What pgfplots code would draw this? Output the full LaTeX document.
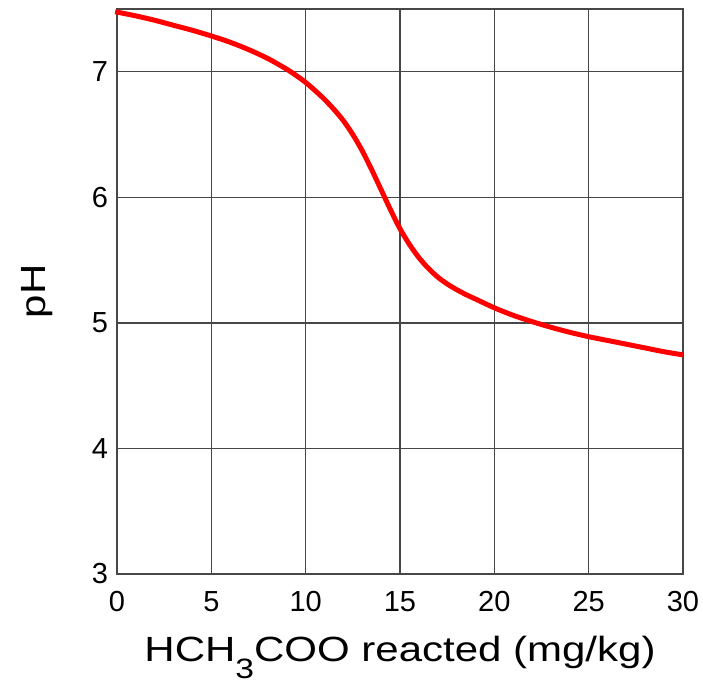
\documentclass[border=0pt]{standalone}
\usepackage{fontspec}
\setmainfont{Liberation Sans}
\newfontfamily\widefont[FakeStretch=1.2]{Liberation Sans}
\usepackage{pgfplots}
\pgfplotsset{compat=1.18}
\usetikzlibrary{calc}
\begin{document}
\begin{tikzpicture}
\begin{axis}[
  name=ax,
  scale only axis,
  width=283pt, height=282.5pt,
  xmin=0, xmax=30, ymin=3, ymax=7.5,
  xtick={0,5,...,30}, ytick={3,4,5,6,7},
  grid=major,
  major grid style={line width=0.65pt, color=black!72},
  axis line style={line width=0.65pt, color=black!72},
  major tick length=0pt,
  tick label style={font=\fontsize{14.5}{16}\selectfont},
  /pgf/number format/assume math mode=true,
  xticklabel style={yshift=-5pt},
  yticklabel style={xshift=-1pt},
  xlabel={HCH\raisebox{-8.5pt}{\fontsize{14}{16}\selectfont 3}COO reacted (mg/kg)},
  ylabel={pH},
  label style={font=\widefont\fontsize{17.5}{19}\selectfont},
  xlabel style={at={(axis description cs:0.5,0)}, anchor=base, yshift=-44pt},
  ylabel style={at={(axis description cs:-0.1272,0.5)}, anchor=base},
  clip=false,
]
\addplot[red, line width=2.5pt, smooth, tension=0.5] coordinates {
 (-0.1,7.478) (1,7.445) (2,7.41) (3,7.37) (4,7.33) (5,7.285) (6,7.235)
 (7,7.175) (8,7.105) (9,7.02) (9.5,6.97) (10,6.915) (10.5,6.85) (11,6.78)
 (11.5,6.70) (12,6.61) (12.5,6.50) (13,6.37) (13.5,6.22) (14,6.06)
 (14.5,5.90) (15,5.75) (15.5,5.625) (16,5.52) (16.5,5.435) (17,5.365)
 (17.5,5.31) (18,5.265) (18.5,5.225) (19,5.19) (20,5.12) (21,5.06) (22,5.01)
 (23,4.965) (24,4.925) (25,4.89) (26,4.86) (27,4.83) (28,4.80) (29,4.77) (30,4.745)
};
\end{axis}
\pgfresetboundingbox
\path ($(ax.south west)+(-58.5pt,-54.5pt)$) rectangle ($(ax.north east)+(10pt,4.5pt)$);
\end{tikzpicture}
\end{document}
